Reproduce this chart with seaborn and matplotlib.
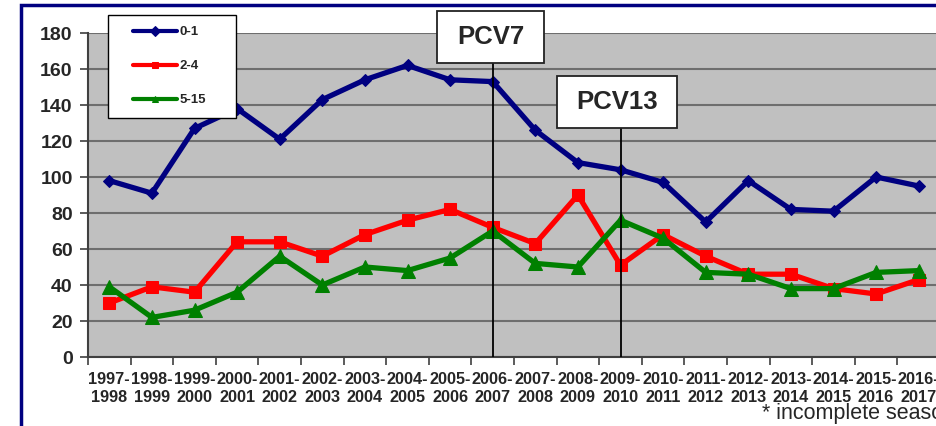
import numpy as np
import pandas as pd
import seaborn as sns
import matplotlib
matplotlib.use("Agg")
import matplotlib.pyplot as plt
from matplotlib.patches import Rectangle

seasons = ["1997-\n1998", "1998-\n1999", "1999-\n2000", "2000-\n2001", "2001-\n2002",
           "2002-\n2003", "2003-\n2004", "2004-\n2005", "2005-\n2006", "2006-\n2007",
           "2007-\n2008", "2008-\n2009", "2009-\n2010", "2010-\n2011", "2011-\n2012",
           "2012-\n2013", "2013-\n2014", "2014-\n2015", "2015-\n2016", "2016-\n2017"]
age_0_1 = [98, 91, 127, 138, 121, 143, 154, 162, 154, 153, 126, 108, 104, 97, 75, 98, 82, 81, 100, 95]
age_2_4 = [30, 39, 36, 64, 64, 56, 68, 76, 82, 72, 63, 90, 51, 68, 56, 46, 46, 38, 35, 43]
age_5_15 = [39, 22, 26, 36, 56, 40, 50, 48, 55, 70, 52, 50, 76, 66, 47, 46, 38, 38, 47, 48]
series_labels = ["0-1", "2-4", "5-15"]
y_ticks = [0, 20, 40, 60, 80, 100, 120, 140, 160, 180]
vaccines = ["PCV7", "PCV13"]
vaccine_idx = [9, 12]

sns.set_theme(style="white")
plt.rcParams['font.family'] = ['Liberation Sans', 'DejaVu Sans']

fig = plt.figure(figsize=(9.36, 4.26), dpi=100)
W, H = 936, 426
ax = fig.add_axes([88 / W, 1 - 357 / H, (940 - 88) / W, (357 - 33) / H])
ax.set_facecolor('#C0C0C0')

x = np.arange(len(seasons))
df = pd.DataFrame({"x": x, "a": age_0_1, "b": age_2_4, "c": age_5_15})

styles = [("a", "#000080", "D", 6), ("b", "#FF0000", "s", 9), ("c", "#008000", "^", 10)]
for (col, color, mk, ms), lab in zip(styles, series_labels):
    sns.lineplot(data=df, x="x", y=col, ax=ax, color=color, marker=mk, markersize=ms,
                 markeredgecolor=color, linewidth=3.8, label=lab, zorder=4, clip_on=False)

ax.set_xlim(-0.5, len(seasons) - 0.5)
ax.set_ylim(0, 180)
ax.set_yticks(y_ticks)
ax.set_yticklabels([str(v) for v in y_ticks], fontsize=14, fontweight='bold')
ax.set_xticks(x)
ax.set_xticklabels(seasons, fontsize=11.7, fontweight='bold', linespacing=1.2)
ax.set_xticks(np.arange(-0.5, len(seasons)), minor=True)
ax.tick_params(axis='x', which='major', length=0, pad=11)
ax.tick_params(axis='x', which='minor', length=6, width=1.2, color='#404040', direction='out', bottom=True)
ax.tick_params(axis='y', length=6, width=1.2, color='#404040', direction='out', left=True, pad=5)
ax.set_xlabel("")
ax.set_ylabel("")
ax.yaxis.grid(True, color='#6e6e6e', linewidth=1.5)
ax.set_axisbelow(True)
for s in ['top', 'right']:
    ax.spines[s].set_visible(False)
for s in ['left', 'bottom']:
    ax.spines[s].set_color('#404040')
    ax.spines[s].set_linewidth(1.5)

# vaccine annotations
boxes = [(7.70, 163.3, 2.51, 28.9), (10.52, 127.2, 2.81, 28.9)]
for name, idx, (bx, by, bw, bh) in zip(vaccines, vaccine_idx, boxes):
    ax.vlines(idx, 0, by, color='black', linewidth=1.3, zorder=5)
    ax.add_patch(Rectangle((bx, by), bw, bh, facecolor='white', edgecolor='#222222',
                           linewidth=1.3, zorder=6, clip_on=False))
    ax.text(bx + bw / 2, by + bh / 2, name, ha='center', va='center', fontsize=18.5,
            fontweight='bold', zorder=7, clip_on=False)

# legend frame drawn separately
ax.add_patch(Rectangle((108 / W, 1 - 118 / H), 128 / W, 103 / H, transform=fig.transFigure,
                       facecolor='white', edgecolor='black', linewidth=1.0, zorder=9,
                       clip_on=False))
leg = ax.legend(loc='upper left', bbox_to_anchor=(133 / W, 1 - 26 / H),
                bbox_transform=fig.transFigure, borderaxespad=0, frameon=False,
                prop={'weight': 'bold', 'size': 9.5}, handlelength=3.3, labelspacing=1.65,
                borderpad=0, handletextpad=0.2)
leg.set_zorder(10)
for h in leg.legend_handles:
    h.set_markersize(5)
    h.set_linewidth(3)

fig.text(762 / W, 1 - 414 / H, "* incomplete season", fontsize=15.5, ha='left', va='center')

# outer navy frame
fig.patches.append(Rectangle((21 / W, -0.2), 1.2, 1.2 - 4.5 / H, transform=fig.transFigure,
                             fill=False, edgecolor='#000080', linewidth=2.5, zorder=0))

fig.savefig("out.png", dpi=100)
